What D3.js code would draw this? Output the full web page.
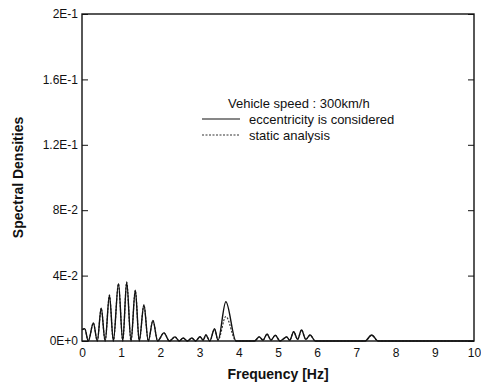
<!DOCTYPE html>
<html>
<head>
<meta charset="utf-8">
<script src="https://cdn.jsdelivr.net/npm/d3@7"></script>
<style>
  body { margin: 0; background: #fff; }
  text { font-family: "Liberation Sans", Arial, sans-serif; fill: #111; }
</style>
</head>
<body>
<div id="chart"></div>
<script>
// frequency points [Hz]
const freq = [0, 0.07, 0.16, 0.29, 0.39, 0.49, 0.59, 0.70, 0.80, 0.93, 1.04, 1.14, 1.25, 1.36, 1.46,
  1.58, 1.69, 1.81, 1.93, 2.09, 2.23, 2.37, 2.48, 2.58, 2.69, 2.80, 2.90, 3.01, 3.09, 3.16, 3.26,
  3.38, 3.47, 3.67, 3.93, 4.40, 4.52, 4.62, 4.72, 4.82, 4.93, 5.05, 5.15, 5.22, 5.30, 5.40, 5.50,
  5.60, 5.71, 5.82, 5.95, 7.22, 7.39, 7.55, 10];

// eccentricity is considered
const eccentric = [0.007, 0.0075, 0, 0.011, 0, 0.020, 0, 0.028, 0, 0.035, 0, 0.036, 0, 0.031, 0,
  0.022, 0, 0.0125, 0, 0.005, 0, 0.0025, 0, 0.0018, 0, 0.0018, 0, 0.0026, 0.0005, 0.0037, 0,
  0.0075, 0.0005, 0.024, 0, 0, 0.0025, 0.0005, 0.0043, 0.0005, 0.0035, 0, 0.0015, 0.0025, 0.0005, 0.0057, 0.001,
  0.0067, 0.001, 0.0037, 0, 0, 0.0037, 0, 0];

// static analysis
const staticA = [0.007, 0.0075, 0, 0.011, 0, 0.020, 0, 0.028, 0, 0.035, 0, 0.036, 0, 0.031, 0,
  0.022, 0, 0.0125, 0, 0.005, 0, 0.0025, 0, 0.0018, 0, 0.0018, 0, 0.0026, 0.0005, 0.0037, 0,
  0.0072, 0.0005, 0.015, 0, 0, 0.0025, 0.0005, 0.0043, 0.0005, 0.0035, 0, 0.0015, 0.0025, 0.0005, 0.0057, 0.001,
  0.0067, 0.001, 0.0037, 0, 0, 0.0035, 0, 0];

const xTicks = [0, 1, 2, 3, 4, 5, 6, 7, 8, 9, 10];
const yTicks = [0, 0.04, 0.08, 0.12, 0.16, 0.2];
const yTickLabels = ["0E+0", "4E-2", "8E-2", "1.2E-1", "1.6E-1", "2E-1"];

const W = 481, H = 388;
const m = { left: 82, right: 7, top: 14, bottom: 47 };

const svg = d3.select('#chart').append('svg')
  .attr('width', W).attr('height', H);

const x = d3.scaleLinear().domain([0, 10]).range([m.left, W - m.right]);
const y = d3.scaleLinear().domain([0, 0.2]).range([H - m.bottom, m.top]);

// frame
svg.append('rect')
  .attr('x', x(0)).attr('y', y(0.2))
  .attr('width', x(10) - x(0)).attr('height', y(0) - y(0.2))
  .attr('fill', 'none').attr('stroke', '#111').attr('stroke-width', 1.4);

// y axis, ticks inward on both sides
const yAxisL = d3.axisRight(y).tickValues(yTicks).tickSize(6).tickFormat('');
svg.append('g').attr('transform', `translate(${x(0)},0)`).call(yAxisL)
  .call(g => g.select('.domain').remove())
  .selectAll('line').attr('stroke', '#111');
const yAxisR = d3.axisLeft(y).tickValues(yTicks).tickSize(6).tickFormat('');
svg.append('g').attr('transform', `translate(${x(10)},0)`).call(yAxisR)
  .call(g => g.select('.domain').remove())
  .selectAll('line').attr('stroke', '#111');

// y tick labels
svg.append('g').selectAll('text').data(yTicks).join('text')
  .attr('x', x(0) - 4).attr('y', d => y(d))
  .attr('dy', '0.35em').attr('text-anchor', 'end')
  .attr('font-size', 12)
  .text((d, i) => yTickLabels[i]);

// x tick labels
const xAxis = d3.axisBottom(x).tickValues(xTicks).tickSize(0).tickPadding(7);
svg.append('g').attr('transform', `translate(0,${y(0)})`).call(xAxis)
  .call(g => g.select('.domain').remove())
  .selectAll('text').attr('font-size', 12).attr('fill', '#111')
  .style('font-family', '"Liberation Sans", Arial, sans-serif');

// axis titles
svg.append('text')
  .attr('x', (x(0) + x(10)) / 2).attr('y', 379)
  .attr('text-anchor', 'middle').attr('font-size', 14).attr('font-weight', 'bold')
  .text('Frequency [Hz]');
svg.append('text')
  .attr('transform', `translate(23,${(y(0) + y(0.2)) / 2}) rotate(-90)`)
  .attr('text-anchor', 'middle').attr('font-size', 14).attr('font-weight', 'bold')
  .text('Spectral Densities');

// curves
const line = d3.line()
  .x(d => x(d[0])).y(d => y(d[1]))
  .curve(d3.curveMonotoneX);

svg.append('path')
  .datum(freq.map((f, i) => [f, staticA[i]]))
  .attr('d', line).attr('fill', 'none')
  .attr('stroke', '#333').attr('stroke-width', 1.2)
  .attr('stroke-dasharray', '2,1.5');

svg.append('path')
  .datum(freq.map((f, i) => [f, eccentric[i]]))
  .attr('d', line).attr('fill', 'none')
  .attr('stroke', '#111').attr('stroke-width', 1.4);

// legend
const lg = svg.append('g');
lg.append('text').attr('x', 228).attr('y', 103).attr('dy', '0.35em')
  .attr('font-size', 13).text('Vehicle speed : 300km/h');
lg.append('line').attr('x1', 202).attr('x2', 240).attr('y1', 119).attr('y2', 119)
  .attr('stroke', '#111').attr('stroke-width', 1.2);
lg.append('text').attr('x', 249).attr('y', 119).attr('dy', '0.35em')
  .attr('font-size', 13).text('eccentricity is considered');
lg.append('line').attr('x1', 202).attr('x2', 240).attr('y1', 135).attr('y2', 135)
  .attr('stroke', '#333').attr('stroke-width', 1.2).attr('stroke-dasharray', '2,1.5');
lg.append('text').attr('x', 249).attr('y', 135).attr('dy', '0.35em')
  .attr('font-size', 13).text('static analysis');
</script>
</body>
</html>
